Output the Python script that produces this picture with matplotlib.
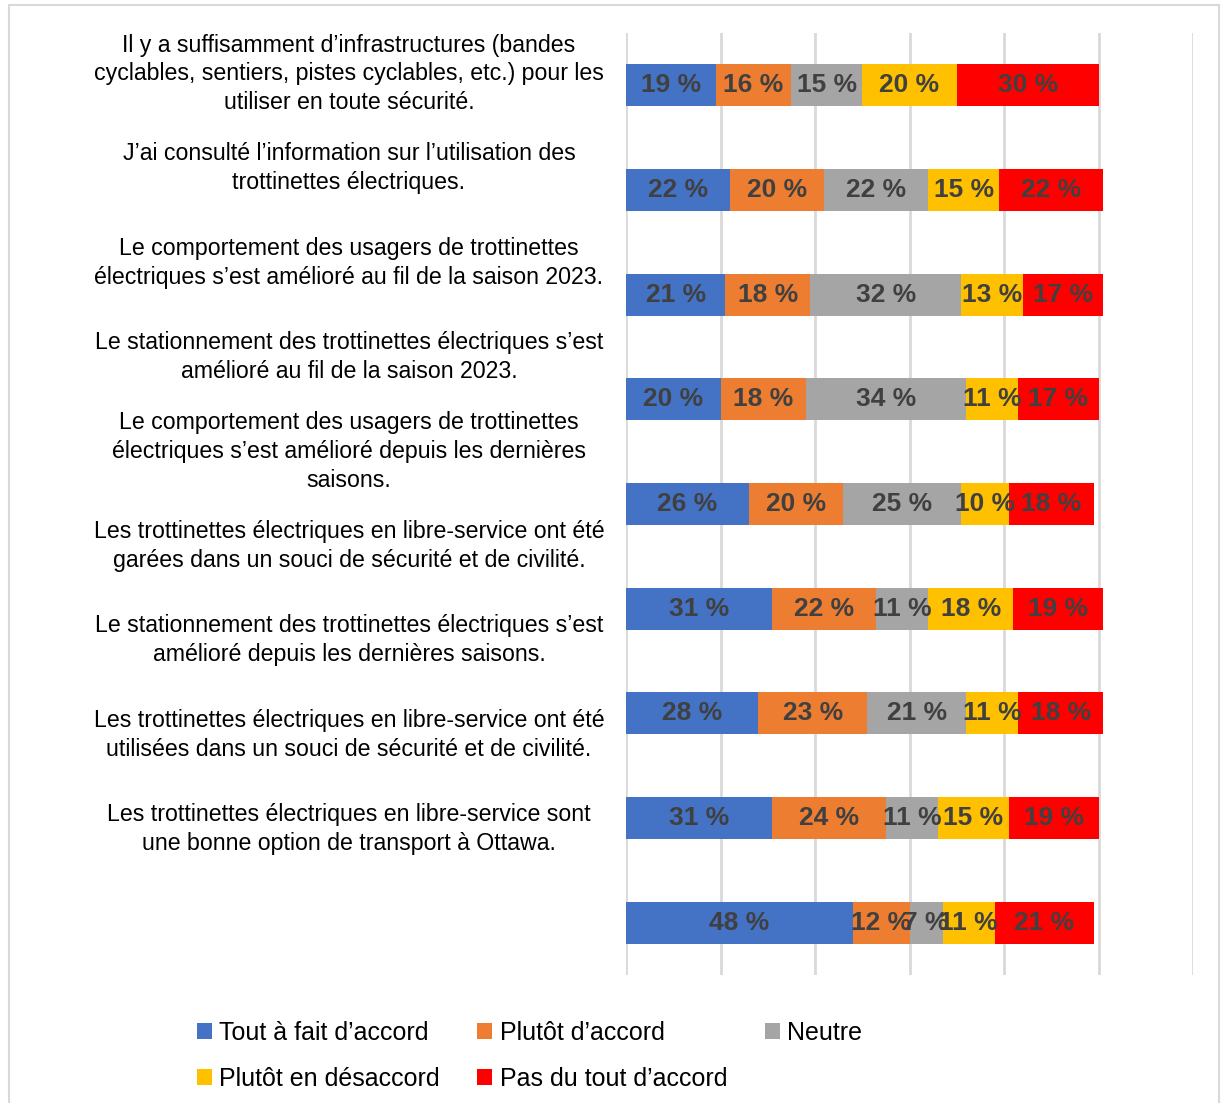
import matplotlib
matplotlib.use("Agg")
import matplotlib.pyplot as plt
import matplotlib.transforms as mtransforms
from matplotlib.patches import Rectangle
import numpy as np

plt.rcParams['font.family'] = ['Liberation Sans', 'DejaVu Sans']

# statements (left column text)
statements = [
    "Il y a suffisamment d\u2019infrastructures (bandes\ncyclables, sentiers, pistes cyclables, etc.) pour les\nutiliser en toute s\u00e9curit\u00e9.",
    "J\u2019ai consult\u00e9 l\u2019information sur l\u2019utilisation des\ntrottinettes \u00e9lectriques.",
    "Le comportement des usagers de trottinettes\n\u00e9lectriques s\u2019est am\u00e9lior\u00e9 au fil de la saison 2023.",
    "Le stationnement des trottinettes \u00e9lectriques s\u2019est\nam\u00e9lior\u00e9 au fil de la saison 2023.",
    "Le comportement des usagers de trottinettes\n\u00e9lectriques s\u2019est am\u00e9lior\u00e9 depuis les derni\u00e8res\nsaisons.",
    "Les trottinettes \u00e9lectriques en libre-service ont \u00e9t\u00e9\ngar\u00e9es dans un souci de s\u00e9curit\u00e9 et de civilit\u00e9.",
    "Le stationnement des trottinettes \u00e9lectriques s\u2019est\nam\u00e9lior\u00e9 depuis les derni\u00e8res saisons.",
    "Les trottinettes \u00e9lectriques en libre-service ont \u00e9t\u00e9\nutilis\u00e9es dans un souci de s\u00e9curit\u00e9 et de civilit\u00e9.",
    "Les trottinettes \u00e9lectriques en libre-service sont\nune bonne option de transport \u00e0 Ottawa.",
]

series_names = ["Tout \u00e0 fait d\u2019accord", "Plut\u00f4t d\u2019accord", "Neutre",
                "Plut\u00f4t en d\u00e9saccord", "Pas du tout d\u2019accord"]

# one value per bar, top to bottom (%)
tout_a_fait = [19, 22, 21, 20, 26, 31, 28, 31, 48]
plutot_accord = [16, 20, 18, 18, 20, 22, 23, 24, 12]
neutre = [15, 22, 32, 34, 25, 11, 21, 11, 7]
plutot_desaccord = [20, 15, 13, 11, 10, 18, 11, 15, 11]
pas_du_tout = [30, 22, 17, 17, 18, 19, 18, 19, 21]

colors = ["#4472C4", "#ED7D31", "#A5A5A5", "#FFC000", "#FF0000"]

fig = plt.figure(figsize=(12.22, 11.03), dpi=100)
W, H = 1222, 1103
ax = fig.add_axes([626 / W, 1 - 975 / H, (1193 - 626) / W, (975 - 33) / H])

# outer frame
fig.patches.append(Rectangle((9 / W, -0.01), (1219 - 9) / W, 1 - 5 / H + 0.01,
                             transform=fig.transFigure, fill=False,
                             edgecolor="#D9D9D9", lw=1.5))

data = [tout_a_fait, plutot_accord, neutre, plutot_desaccord, pas_du_tout]
ypos = np.arange(len(tout_a_fait))
left = np.zeros(len(ypos))
handles = []
for vals, name, col in zip(data, series_names, colors):
    vals = np.array(vals, dtype=float)
    b = ax.barh(ypos, vals, left=left, height=0.4, color=col, label=name, zorder=3)
    handles.append(b)
    for y, l, v in zip(ypos, left, vals):
        ax.text(l + v / 2, y, f"{int(v)} %", ha="center", va="center",
                fontsize=19, fontweight="bold", color="#404040", zorder=4)
    left += vals

ax.set_xlim(0, 120)
ax.set_ylim(8.5, -0.5)
ax.set_xticks(np.arange(0, 121, 20))
ax.set_xticklabels([])
ax.set_yticks([])
ax.tick_params(length=0)
ax.grid(axis="x", color="#D9D9D9", lw=2, zorder=0)
for s in ax.spines.values():
    s.set_visible(False)

# statement text, centred in the left column (slightly tighter spacing than bars)
trans = mtransforms.blended_transform_factory(fig.transFigure, ax.transData)
for i, txt in enumerate(statements):
    ax.text(349 / W, i * 0.902 - 0.11, txt, transform=trans, ha="center",
            va="center", multialignment="center", fontsize=16.7, color="#000000",
            linespacing=1.32)

# legend filled row-wise like the original
order = [0, 3, 1, 4, 2]
fig.legend(handles=[handles[i] for i in order],
           labels=[series_names[i] for i in order], ncol=3, loc="upper left",
           bbox_to_anchor=(174 / W, 1 - 998 / H), frameon=False, fontsize=18,
           handlelength=0.6, handleheight=0.6, handletextpad=0.3,
           columnspacing=1.5, labelspacing=0.9)

fig.savefig("out.png", dpi=100)
